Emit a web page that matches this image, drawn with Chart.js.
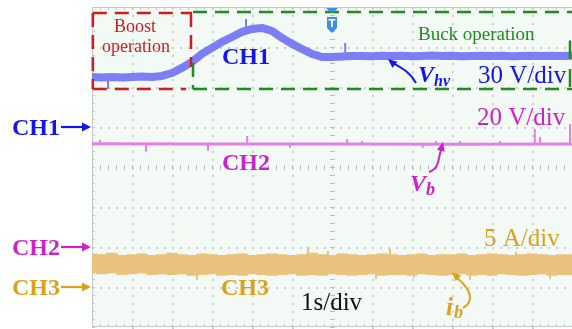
<!DOCTYPE html>
<html>
<head>
<meta charset="utf-8">
<script src="https://cdn.jsdelivr.net/npm/chart.js@4/dist/chart.umd.min.js"></script>
<style>
  html, body { margin: 0; padding: 0; background: #ffffff; }
  #wrap { width: 572px; height: 329px; position: relative; }
</style>
</head>
<body>
<div id="wrap"><canvas id="scope" width="572" height="329"></canvas></div>
<script>
// Time base: 1 s/div, 12 divisions across, trigger at t = 0
const timeMin = -6, timeMax = 6;
const divMin = -4, divMax = 4;

// Channel settings: units per division and ground-marker position (divisions)
const ch1PerDiv = 30, ch1Offset = 1;    // Vhv, V
const ch2PerDiv = 20, ch2Offset = -2;   // Vb, V
const ch3PerDiv = 5,  ch3Offset = -3;   // ib, A

// Sample instants (s)
const sampleTime = [-6,-5.75,-5.5,-5.25,-5,-4.75,-4.5,-4.25,-4,-3.75,-3.5,-3.25,-3,-2.75,-2.5,-2.25,-2,-1.75,-1.5,-1.25,-1,-0.75,-0.5,-0.25,0,0.25,0.5,0.75,1,1.25,1.5,1.75,2,2.25,2.5,2.75,3,3.25,3.5,3.75,4,4.25,4.5,4.75,5,5.25,5.5,5.75,6];

// CH1: high-voltage side Vhv (V)
const vhvVolts = [37.5,37.1,37.5,37.1,37.5,37.9,37.5,38.3,40.5,44.3,48.8,54.8,59.3,63.8,67.5,71.3,73.5,74.3,72,66.8,62.3,58.5,54.8,52.5,52.5,52.9,53.3,53.3,53.0,53.4,53.2,53.5,53.1,53.3,53.6,53.2,53.4,53.0,53.3,53.5,53.2,53.4,53.1,53.3,53.5,53.2,53.4,53.3,53.5];
const vhvSpikeTime = [-5.6, -2.15, 0.33, 5.95];
const vhvSpikeBase = [37.3, 73.5, 53.2, 53.4];
const vhvSpikePeak = [29, 81, 63, 65];

// CH2: battery voltage Vb (V)
const vbTime  = [-6, -3, 0, 3, 6];
const vbVolts = [51.6, 51.5, 51.5, 51.4, 51.5];
const vbSpikeTime = [-5.8, -4.65, -3.1, -2.12, -1.05, 0.38, 0.75, 2.27, 2.6, 3.2, 4.2, 5.07, 5.2, 5.95];
const vbSpikePeak = [53.5, 48, 48.5, 55.5, 50, 54, 53, 50, 53, 53, 53, 59, 55, 61.5];

// CH3: battery current ib (A), upper and lower edges of the noise band
const ibUpper = [4.1,4.0,4.2,3.9,4.0,4.1,3.9, 4.0,4.2,4.0,3.9,4.1,4.0,3.9, 4.0,4.1,3.9,4.0,4.1,4.0,3.9, 4.0,4.2,4.0,3.9,4.1,4.0,3.9, 4.0,4.1,4.0,3.9,4.0,4.1,3.9, 4.0,4.0,4.1,3.9,4.0,4.1,4.0, 3.9,4.0,4.1,4.0,3.9,4.0,4.0];
const ibLower = [1.8,1.7,1.8,1.6,1.7,1.8,1.6, 1.7,1.6,1.7,1.5,1.6,1.7,1.5, 1.6,1.5,1.7,1.6,1.5,1.6,1.7, 1.5,1.6,1.5,1.7,1.6,1.5,1.6, 1.7,1.5,1.6,1.6,1.5,1.7,1.6, 1.5,1.6,1.7,1.5,1.6,1.5,1.7, 1.6,1.5,1.6,1.7,1.5,1.6,1.6];
const ibMid = 2.85;
const ibSpikeTime = [-3.375, -0.6, -0.1, 1.1, 1.45, 2.05, 3.45, 4.6, 5.45];
const ibSpikePeak = [1.0, 5.0, 4.5, 1.1, 4.75, 1.25, 1.0, 4.4, 1.1];

// Colours
const blueTrace = '#7c7ef4', blueText = '#1414f0';
const magTrace = '#e57ee6', magText = '#cc22cc';
const tanTrace = '#e9c27e', tanText = '#d8a21e';
const redBox = '#d01c1c', greenBox = '#1f8c1f';

const toPoints = (ts, vs) => ts.map((t, i) => ({ x: t, y: vs[i] }));
const toSpikes = (ts, base, peaks) => ts.flatMap((t, i) => [
  { x: t, y: Array.isArray(base) ? base[i] : base },
  { x: t, y: peaks[i] },
  { x: t, y: null }
]);

function arrowHead(ctx, tipX, tipY, angle, len, wid) {
  ctx.beginPath();
  ctx.moveTo(tipX, tipY);
  ctx.lineTo(tipX - len * Math.cos(angle) + wid * Math.sin(angle), tipY - len * Math.sin(angle) - wid * Math.cos(angle));
  ctx.lineTo(tipX - len * Math.cos(angle) - wid * Math.sin(angle), tipY - len * Math.sin(angle) + wid * Math.cos(angle));
  ctx.closePath();
  ctx.fill();
}

function dashedLine(ctx, x1, y1, x2, y2) {
  ctx.beginPath(); ctx.moveTo(x1, y1); ctx.lineTo(x2, y2); ctx.stroke();
}

const scopeDecor = {
  id: 'scopeDecor',
  beforeDraw(chart) {
    const { ctx, chartArea: a, scales } = chart;
    const x = scales.x, d = scales.div;
    ctx.save();
    ctx.fillStyle = '#ffffff';
    ctx.fillRect(0, 0, chart.width, chart.height);
    ctx.fillStyle = '#f3f9f5';
    ctx.fillRect(a.left, a.top, a.right - a.left, a.bottom - a.top);

    // dotted division lines
    ctx.fillStyle = '#c9cdcb';
    for (let gx = -5; gx <= 5; gx++) {
      if (gx === 0) continue;
      const px = Math.round(x.getPixelForValue(gx));
      for (let k = -20; k <= 20; k++) {
        const py = Math.round(d.getPixelForValue(k * 0.2));
        ctx.fillRect(px, py, 2, 2);
      }
    }
    for (let gy = -3; gy <= 3; gy++) {
      if (gy === 0) continue;
      const py = Math.round(d.getPixelForValue(gy));
      for (let k = -30; k <= 30; k++) {
        const px = Math.round(x.getPixelForValue(k * 0.2));
        ctx.fillRect(px, py, 2, 2);
      }
    }
    // centre axes with minor ticks
    ctx.fillStyle = '#b8bcbb';
    const cy = Math.round(d.getPixelForValue(0));
    for (let k = -30; k <= 30; k++) {
      const px = Math.round(x.getPixelForValue(k * 0.2));
      ctx.fillRect(px, cy - 2, 1, 5);
    }
    const cx = Math.round(x.getPixelForValue(0));
    for (let k = -20; k <= 20; k++) {
      const py = Math.round(d.getPixelForValue(k * 0.2));
      ctx.fillRect(cx - 2, py, 5, 1);
    }
    // frame
    ctx.fillStyle = '#c4c8c6';
    ctx.fillRect(a.left, a.top, 1, a.bottom - a.top);
    ctx.fillRect(a.left, a.top, a.right - a.left, 1);
    ctx.fillRect(a.left, a.bottom - 1, a.right - a.left, 1);
    for (let k = -20; k <= 20; k++) {
      const py = Math.round(d.getPixelForValue(k * 0.2));
      ctx.fillRect(a.left, py, 3, 1);
    }
    for (let k = -30; k <= 30; k++) {
      const px = Math.round(x.getPixelForValue(k * 0.2));
      ctx.fillRect(px, a.top, 1, 3);
      ctx.fillRect(px, a.bottom - 3, 1, 3);
    }
    ctx.restore();
  },
  afterDatasetsDraw(chart) {
    const { ctx, scales } = chart;
    const x = scales.x, d = scales.div;
    ctx.save();

    // operating-mode boxes
    const bTop = d.getPixelForValue(3.85), bBot = d.getPixelForValue(1.95);
    const xL = x.getPixelForValue(-5.98), xM = x.getPixelForValue(-3.5), xR = x.getPixelForValue(5.95);
    ctx.lineWidth = 2.5;
    ctx.setLineDash([14, 8]);
    ctx.strokeStyle = redBox;
    dashedLine(ctx, xL, bTop, xM, bTop);
    dashedLine(ctx, xL, bTop, xL, bBot);
    dashedLine(ctx, xL, bBot, xM - 6, bBot);
    dashedLine(ctx, xM - 1, bTop, xM - 1, bTop + 54);
    ctx.strokeStyle = greenBox;
    dashedLine(ctx, xM + 1, bTop - 1, xR + 4, bTop - 1);
    dashedLine(ctx, xM + 1, bBot, xR + 4, bBot);
    dashedLine(ctx, xM + 1, bTop + 50, xM + 1, bBot);
    ctx.setLineDash([18, 10]);
    dashedLine(ctx, xR, bTop + 28, xR, bBot);
    ctx.setLineDash([]);

    // trigger marker
    const tx = x.getPixelForValue(0);
    ctx.fillStyle = '#3a8fe4';
    ctx.beginPath();
    ctx.moveTo(tx - 6, 8); ctx.lineTo(tx + 6, 8); ctx.lineTo(tx + 2, 12); ctx.lineTo(tx - 2, 12);
    ctx.closePath(); ctx.fill();
    ctx.beginPath();
    ctx.moveTo(tx - 5, 17); ctx.lineTo(tx + 5, 17); ctx.lineTo(tx + 5, 28); ctx.lineTo(tx, 33); ctx.lineTo(tx - 5, 28);
    ctx.closePath(); ctx.fill();
    ctx.fillStyle = '#ffffff';
    ctx.font = 'bold 10px "DejaVu Sans"';
    ctx.textAlign = 'center';
    ctx.fillText('T', tx, 27);

    const serif = '"Liberation Serif", "Times New Roman", serif';
    function text(str, px, py, font, color, align) {
      ctx.font = font + ' ' + serif;
      ctx.fillStyle = color;
      ctx.textAlign = align || 'left';
      ctx.fillText(str, px, py);
    }

    // mode labels
    text('Boost', 135, 32, '18px', redBox, 'center');
    text('operation', 136, 52, '18px', redBox, 'center');
    text('Buck operation', 418, 40, '19px', greenBox);

    // channel labels inside the graticule
    text('CH1', 222, 64, 'bold 24px', blueText);
    text('CH2', 222, 170, 'bold 24px', magText);
    text('CH3', 221, 295, 'bold 24px', tanText);

    // scale settings
    text('30 V/div', 478, 83, '25px', blueText);
    text('20 V/div', 477, 125, '25px', magText);
    text('5 A/div', 484, 246, '25px', tanText);
    text('1s/div', 301, 310, '25px', '#111111');

    // signal names
    text('V', 418, 82, 'bold italic 24px', blueText);
    text('hv', 434, 86, 'bold italic 16px', blueText);
    text('V', 410, 191, 'bold italic 24px', magText);
    text('b', 426, 195, 'bold italic 18px', magText);
    text('i', 446, 315, 'bold italic 25px', tanText);
    text('b', 454, 318, 'bold italic 18px', tanText);

    // pointer arrows
    ctx.lineWidth = 2;
    ctx.strokeStyle = blueText; ctx.fillStyle = blueText;
    ctx.beginPath(); ctx.moveTo(416, 83); ctx.bezierCurveTo(410, 72, 402, 68, 393, 63); ctx.stroke();
    arrowHead(ctx, 388, 59, Math.atan2(-5, -6), 9, 4);

    ctx.strokeStyle = magText; ctx.fillStyle = magText;
    ctx.beginPath(); ctx.moveTo(441, 150); ctx.bezierCurveTo(438, 158, 440, 168, 429, 172); ctx.stroke();
    arrowHead(ctx, 443, 142, Math.atan2(-8, 2), 9, 4);

    ctx.strokeStyle = tanText; ctx.fillStyle = tanText;
    ctx.beginPath(); ctx.moveTo(457, 278); ctx.bezierCurveTo(472, 290, 474, 302, 463, 308); ctx.stroke();
    arrowHead(ctx, 452, 272, Math.atan2(-5, -5), 9, 4);

    // channel ground markers on the left
    const markers = [
      ['CH1', ch1Offset, blueText],
      ['CH2', ch2Offset, magText],
      ['CH3', ch3Offset, tanText]
    ];
    for (const [name, off, col] of markers) {
      const py = d.getPixelForValue(off);
      text(name, 12, py + 8, 'bold 24px', col);
      ctx.strokeStyle = col; ctx.fillStyle = col; ctx.lineWidth = 2.2;
      ctx.beginPath(); ctx.moveTo(61, py); ctx.lineTo(84, py); ctx.stroke();
      arrowHead(ctx, 91, py, 0, 9, 4.5);
    }
    ctx.restore();
  }
};

const lineBase = { pointRadius: 0, tension: 0, fill: false, spanGaps: false, borderJoinStyle: 'round' };

new Chart(document.getElementById('scope'), {
  type: 'line',
  data: {
    datasets: [
      Object.assign({ label: 'Vhv', data: toPoints(sampleTime, vhvVolts), yAxisID: 'y1', borderColor: blueTrace, borderWidth: 8 }, lineBase),
      Object.assign({ label: 'Vhv spikes', data: toSpikes(vhvSpikeTime, vhvSpikeBase, vhvSpikePeak), yAxisID: 'y1', borderColor: blueTrace, borderWidth: 2 }, lineBase),
      Object.assign({ label: 'Vb', data: toPoints(vbTime, vbVolts), yAxisID: 'y2', borderColor: magTrace, borderWidth: 3 }, lineBase),
      Object.assign({ label: 'Vb spikes', data: toSpikes(vbSpikeTime, 51.5, vbSpikePeak), yAxisID: 'y2', borderColor: magTrace, borderWidth: 2 }, lineBase),
      Object.assign({ label: 'ib spikes', data: toSpikes(ibSpikeTime, ibMid, ibSpikePeak), yAxisID: 'y3', borderColor: tanTrace, borderWidth: 2 }, lineBase),
      Object.assign({}, lineBase, { label: 'ib', data: toPoints(sampleTime, ibUpper), yAxisID: 'y3', borderColor: tanTrace, backgroundColor: tanTrace, borderWidth: 1.5, fill: '+1', stepped: 'middle' }),
      Object.assign({}, lineBase, { label: 'ib low', data: toPoints(sampleTime, ibLower), yAxisID: 'y3', borderColor: tanTrace, borderWidth: 1.5, stepped: 'middle' })
    ]
  },
  options: {
    responsive: false,
    animation: false,
    devicePixelRatio: 1,
    layout: { padding: { left: 92, right: 0, top: 7, bottom: 2 } },
    plugins: { legend: { display: false }, tooltip: { enabled: false } },
    scales: {
      x: { type: 'linear', min: timeMin, max: timeMax, display: false },
      div: { type: 'linear', position: 'left', min: divMin, max: divMax, display: false },
      y1: { type: 'linear', min: (divMin - ch1Offset) * ch1PerDiv, max: (divMax - ch1Offset) * ch1PerDiv, display: false },
      y2: { type: 'linear', min: (divMin - ch2Offset) * ch2PerDiv, max: (divMax - ch2Offset) * ch2PerDiv, display: false },
      y3: { type: 'linear', min: (divMin - ch3Offset) * ch3PerDiv, max: (divMax - ch3Offset) * ch3PerDiv, display: false }
    }
  },
  plugins: [scopeDecor]
});
</script>
</body>
</html>
